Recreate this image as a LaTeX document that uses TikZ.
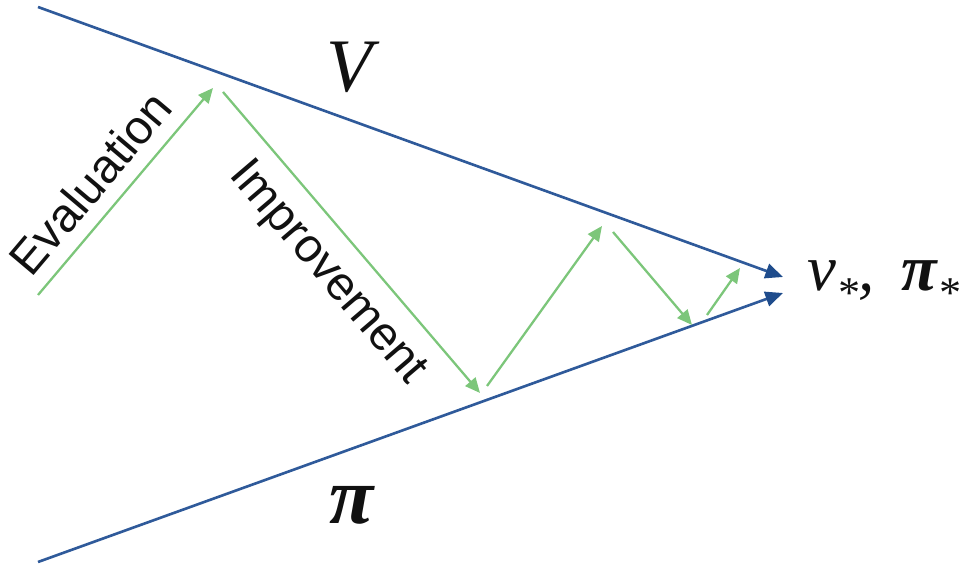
\documentclass[tikz,border=0pt]{standalone}
\usepackage{fontspec}
\setmainfont{Liberation Sans}
\newfontfamily\labelserif{Liberation Serif}
\usepackage{xcolor}
\definecolor{valueblue}{HTML}{2F5A9A}
\definecolor{tipblue}{HTML}{1F4C8C}
\definecolor{stepgreen}{HTML}{7CC67A}
\definecolor{ink}{HTML}{111111}
\usetikzlibrary{arrows.meta,positioning}
\newcommand{\optstar}{\raisebox{-0.55ex}{\fontsize{25}{25}\selectfont *}}

\begin{document}
\begin{tikzpicture}[
  bound/.style={valueblue,line width=1.5pt,
    -{Triangle[length=10pt,width=8.5pt,fill=tipblue,color=tipblue]}},
  gpi/.style={stepgreen,line width=1.3pt,
    -{Triangle[length=8.5pt,width=7.5pt]}},
  phase/.style={font=\fontsize{27}{30}\selectfont,text=ink,inner sep=0pt},
  mathlbl/.style={text=ink,inner sep=0pt}]
  \useasboundingbox (0,0) rectangle (19.58,11.32);

  % --- Bornes V et pi ---
  \coordinate (vstart) at (0.76,11.18);
  \coordinate (pistart) at (0.76,0.08);
  \coordinate (vtip) at (15.66,5.78);
  \coordinate (pitip) at (15.66,5.46);
  \draw[bound] (vstart) -- (vtip);
  \draw[bound] (pistart) -- (pitip);

  % --- Etapes evaluation / amelioration ---
  \coordinate (s0) at (0.76,5.42);   \coordinate (t0) at (4.26,9.56);
  \coordinate (s1) at (4.46,9.48);   \coordinate (t1) at (9.60,3.46);
  \coordinate (s2) at (9.74,3.60);   \coordinate (t2) at (12.04,6.80);
  \coordinate (s3) at (12.26,6.68);  \coordinate (t3) at (13.84,4.82);
  \coordinate (s4) at (14.14,5.02);  \coordinate (t4) at (14.80,5.96);
  \foreach \k in {0,...,4} \draw[gpi] (s\k) -- (t\k);

  % --- Etiquettes ---
  \node[phase,rotate=49.8] (evallbl) at (1.80,7.66) {Evaluation};
  \node[phase,rotate=-49.5] (improvlbl) at (6.54,5.86) {Improvement};
  \node[mathlbl,font=\labelserif\itshape\fontsize{43}{46}\selectfont] (vlbl)
    at (7.00,9.98) {V};
  \node[mathlbl,font=\labelserif\bfseries\itshape\fontsize{46}{50}\selectfont] (pilbl)
    at (7.04,1.22) {π};
  \node[mathlbl,anchor=base west,font=\labelserif\itshape\fontsize{37}{40}\selectfont] (optlbl)
    at (16.14,5.50) {v\optstar,\, {\bfseries π}\optstar};
\end{tikzpicture}
\end{document}
